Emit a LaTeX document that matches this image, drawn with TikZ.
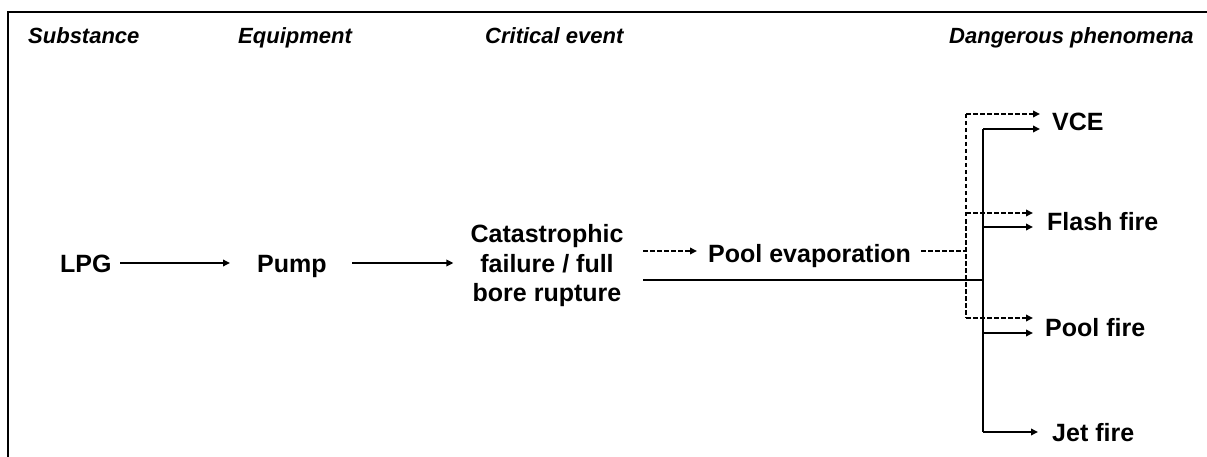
\documentclass[tikz,border=0pt]{standalone}
\usepackage{fontspec}
\setmainfont{Liberation Sans}
\usetikzlibrary{arrows.meta}
\begin{document}
\begin{tikzpicture}[x=1pt,y=-1pt,
  hdr/.style={font=\fontsize{22}{26}\selectfont\bfseries\itshape, inner sep=0pt, anchor=base west},
  lbl/.style={font=\fontsize{25}{29.5}\selectfont\bfseries, inner sep=0pt},
  ln/.style={line width=2pt},
  arr/.style={ln, -{Triangle[length=7pt,width=6.5pt]}},
  dsh/.style={ln, dash pattern=on 4.5pt off 2.5pt},
  darr/.style={dsh, -{Triangle[length=7pt,width=6.5pt]}}]
\useasboundingbox (0,0) rectangle (1207,457);
% frame
\draw[ln] (8,457) -- (8,12) -- (1210,12);
% headers
\node[hdr] (h1) at (28,44) {Substance};
\node[hdr] (h2) at (238,44) {Equipment};
\node[hdr] (h3) at (485,44) {Critical event};
\node[hdr] (h4) at (949,44) {Dangerous phenomena};
% main nodes
\node[lbl, anchor=base west] (lpg) at (60,272) {LPG};
\node[lbl, anchor=base west] (pump) at (257,272) {Pump};
\node[lbl, align=center] (cat) at (547,266) {Catastrophic\\failure / full\\bore rupture};
\node[lbl, anchor=base west] (pe) at (708,262) {Pool evaporation};
\node[lbl, anchor=base west] (vce) at (1052,131) {VCE};
\node[lbl, anchor=base west] (ff) at (1047,230) {Flash fire};
\node[lbl, anchor=base west] (pf) at (1045,336) {Pool fire};
\node[lbl, anchor=base west] (jf) at (1052,441) {Jet fire};
% junction coordinates
\coordinate (dv) at (966,251);
\coordinate (sv) at (983,280);
% chain arrows
\draw[arr] (120,263) -- ([xshift=-27pt]pump.west |- 0,263);
\draw[arr] (352,263) -- ([xshift=-17pt]cat.west |- 0,263);
% pool evaporation path (dashed)
\draw[darr] (643,251) -- ([xshift=-11pt]pe.west |- 0,251);
\draw[dsh] ([xshift=10pt]pe.east |- dv) -- (dv);
\draw[dsh] (dv |- 0,114) -- (dv |- 0,318);
\draw[darr] (dv |- 0,114) -- ([xshift=-12pt]vce.west |- 0,114);
\draw[darr] (dv |- 0,213) -- ([xshift=-14pt]ff.west |- 0,213);
\draw[darr] (dv |- 0,318) -- ([xshift=-12pt]pf.west |- 0,318);
% direct path (solid)
\draw[ln] (643,280) -- (sv);
\draw[ln] (sv |- 0,129) -- (sv |- 0,432);
\draw[arr] (sv |- 0,129) -- ([xshift=-12pt]vce.west |- 0,129);
\draw[arr] (sv |- 0,227) -- ([xshift=-14pt]ff.west |- 0,227);
\draw[arr] (sv |- 0,333) -- ([xshift=-12pt]pf.west |- 0,333);
\draw[arr] (sv |- 0,432) -- ([xshift=-14pt]jf.west |- 0,432);
\end{tikzpicture}
\end{document}
